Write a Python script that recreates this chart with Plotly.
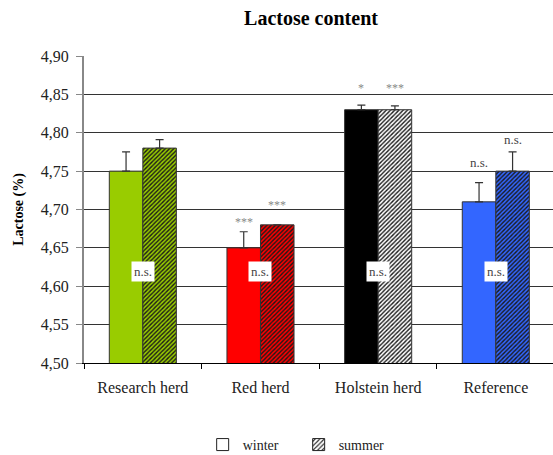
import plotly.graph_objects as go

# Lactose content by herd, winter vs summer
herds = ["Research herd", "Red herd", "Holstein herd", "Reference"]
winter = [4.75, 4.65, 4.83, 4.71]
summer = [4.78, 4.68, 4.83, 4.75]
winter_err = [0.025, 0.021, 0.006, 0.025]
summer_err = [0.011, None, 0.005, 0.025]

winter_sig = ["", "***", "*", "n.s."]
summer_sig = ["", "***", "***", "n.s."]
season_sig = ["n.s.", "n.s.", "n.s.", "n.s."]
y_ticks = [4.50, 4.55, 4.60, 4.65, 4.70, 4.75, 4.80, 4.85, 4.90]

winter_colors = ["#99CC00", "#FF0000", "#000000", "#3366FF"]
summer_colors = ["#99CC00", "#FF0000", "#FFFFFF", "#3366FF"]
HATCH = "#1a1a1a"

SERIF = "Liberation Serif"

fig = go.Figure()

fig.add_trace(go.Bar(
    x=herds, y=winter, name="winter", showlegend=False,
    marker=dict(color=winter_colors, line=dict(color="#333333", width=1)),
    error_y=dict(type="data", array=winter_err, arrayminus=[0] * 4,
                 symmetric=False, color="#333333", thickness=1.2, width=4),
))
# summer bars: herd colour as the pattern background, dark diagonal hatch on top
fig.add_trace(go.Bar(
    x=herds, y=summer, name="summer", showlegend=False,
    marker=dict(color=HATCH, line=dict(color="#333333", width=1),
                pattern=dict(shape="/", fgcolor=HATCH, bgcolor=summer_colors,
                             fgopacity=1, size=3, solidity=0.45,
                             fillmode="replace")),
    error_y=dict(type="data", array=summer_err, arrayminus=[0] * 4,
                 symmetric=False, color="#333333", thickness=1.2, width=4),
))

# legend keys drawn on a hidden overlaid axis so they don't take bar slots
fig.add_trace(go.Bar(
    x=[None], y=[None], name="winter", xaxis="x2", yaxis="y2",
    marker=dict(color="white", line=dict(color="#222222", width=1)),
))
fig.add_trace(go.Bar(
    x=[None], y=[None], name="summer", xaxis="x2", yaxis="y2",
    marker=dict(color="#222222", line=dict(color="#222222", width=1),
                pattern=dict(shape="/", fgcolor="#222222", bgcolor="white",
                             fgopacity=1, size=4, solidity=0.35,
                             fillmode="replace")),
))

# significance markers above bars
star_font = dict(family=SERIF, size=12, color="#888888")
ns_font = dict(family=SERIF, size=13, color="#444444")
winter_shift = [0, 12, 19, 20]
summer_shift = [0, 22, 20, 12]
for i, h in enumerate(herds):
    for sig, vals, errs, shift, off in (
        (winter_sig[i], winter, winter_err, winter_shift[i], -0.1425),
        (summer_sig[i], summer, summer_err, summer_shift[i], 0.1425),
    ):
        if not sig:
            continue
        top = vals[i] + (errs[i] or 0)
        fig.add_annotation(
            x=i + off, y=top, xref="x", yref="y", text=sig, showarrow=False,
            yanchor="middle", yshift=shift + (-2 if "*" in sig else 0),
            font=star_font if "*" in sig else ns_font,
        )
    fig.add_annotation(
        x=i, y=4.619, xref="x", yref="y", text=season_sig[i], showarrow=False,
        bgcolor="white", borderpad=2, font=ns_font,
    )

fig.update_layout(
    width=553, height=455,
    margin=dict(l=84, r=0, t=56, b=92, autoexpand=False),
    paper_bgcolor="white", plot_bgcolor="white",
    separators=", ",
    barmode="group", bargap=0.43, bargroupgap=0,
    title=dict(text="<b>Lactose content</b>", x=0.484, xref="paper",
               y=1 - 17.7 / 455, yanchor="middle", xanchor="center",
               font=dict(family=SERIF, size=20, color="#000000")),
    font=dict(family=SERIF, color="#222222"),
    xaxis=dict(
        type="category", range=[-0.5, 3.486],
        showline=True, linecolor="#000000", linewidth=1,
        ticks="outside", tickson="boundaries", ticklen=5, tickcolor="#000000",
        tickfont=dict(family=SERIF, size=16, color="#222222"),
        ticklabelstandoff=10, showgrid=False, zeroline=False,
    ),
    yaxis=dict(
        range=[4.5, 4.9], tickvals=y_ticks, tickformat=".2f",
        showline=True, linecolor="#888888", linewidth=2,
        ticks="outside", ticklen=6, tickcolor="#888888",
        tickfont=dict(family=SERIF, size=16, color="#222222"),
        ticklabelstandoff=4,
        showgrid=True, gridcolor="#333333", gridwidth=1, zeroline=False,
        title=dict(text="<b>Lactose (%)</b>", standoff=14,
                   font=dict(family=SERIF, size=14, color="#000000")),
    ),
    xaxis2=dict(overlaying="x", visible=False),
    yaxis2=dict(overlaying="y", visible=False),
    legend=dict(orientation="h", x=0.253, xanchor="left", y=-0.267,
                yanchor="middle", font=dict(family=SERIF, size=14, color="#222222"),
                entrywidth=51, entrywidthmode="pixels"),
)

fig.write_html("out.html")
